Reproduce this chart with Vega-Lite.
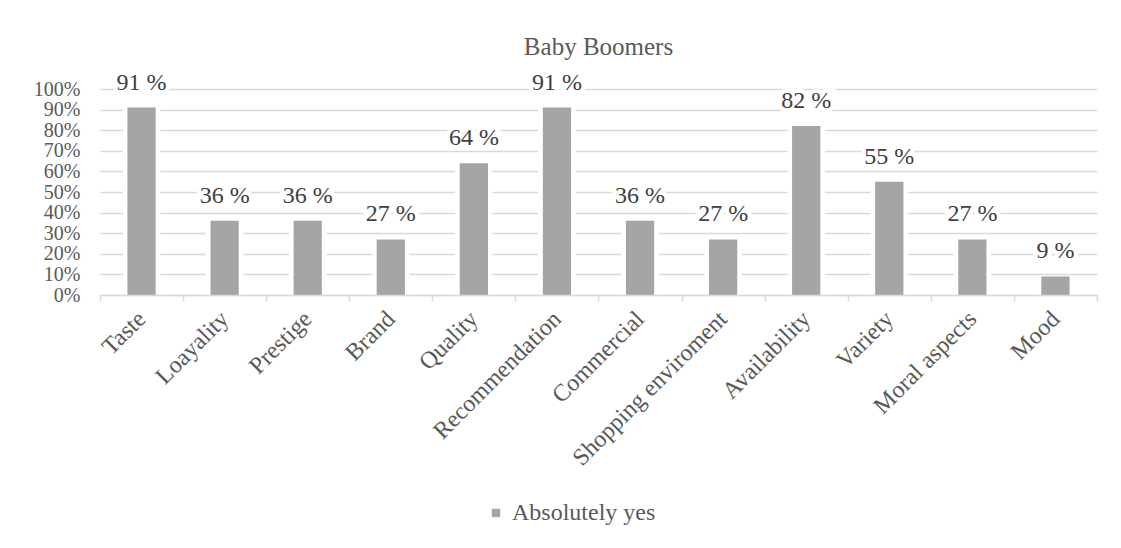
{
  "$schema": "https://vega.github.io/schema/vega-lite/v6.json",
  "width": 997,
  "height": 206,
  "autosize": "none",
  "padding": {"left": 100, "top": 89, "right": 24, "bottom": 253},
  "background": "white",
  "title": {
    "text": "Baby Boomers",
    "anchor": "middle",
    "frame": "group",
    "font": "Times New Roman, Liberation Serif, serif",
    "fontSize": 25,
    "fontWeight": "normal",
    "color": "#595959",
    "offset": 11
  },
  "data": {
    "values": [
      {"factor": "Taste", "share": 0.91, "label": "91 %", "series": "Absolutely yes"},
      {"factor": "Loayality", "share": 0.36, "label": "36 %", "series": "Absolutely yes"},
      {"factor": "Prestige", "share": 0.36, "label": "36 %", "series": "Absolutely yes"},
      {"factor": "Brand", "share": 0.27, "label": "27 %", "series": "Absolutely yes"},
      {"factor": "Quality", "share": 0.64, "label": "64 %", "series": "Absolutely yes"},
      {"factor": "Recommendation", "share": 0.91, "label": "91 %", "series": "Absolutely yes"},
      {"factor": "Commercial", "share": 0.36, "label": "36 %", "series": "Absolutely yes"},
      {"factor": "Shopping enviroment", "share": 0.27, "label": "27 %", "series": "Absolutely yes"},
      {"factor": "Availability", "share": 0.82, "label": "82 %", "series": "Absolutely yes"},
      {"factor": "Variety", "share": 0.55, "label": "55 %", "series": "Absolutely yes"},
      {"factor": "Moral aspects", "share": 0.27, "label": "27 %", "series": "Absolutely yes"},
      {"factor": "Mood", "share": 0.09, "label": "9 %", "series": "Absolutely yes"}
    ]
  },
  "encoding": {
    "x": {
      "field": "factor",
      "type": "nominal",
      "sort": null,
      "scale": {"paddingInner": 0, "paddingOuter": 0},
      "axis": {
        "title": null,
        "labelAngle": -45,
        "labelAlign": "right",
        "labelBaseline": "middle",
        "labelFont": "Liberation Serif",
        "labelFontSize": 24,
        "labelColor": "#595959",
        "labelPadding": 14,
        "labelLimit": 400,
        "domainColor": "#d9d9d9",
        "domainWidth": 1.5,
        "tickColor": "#d9d9d9",
        "tickWidth": 1.5,
        "tickSize": 6,
        "tickBand": "extent",
        "zindex": 1
      }
    },
    "y": {
      "field": "share",
      "type": "quantitative",
      "scale": {"domain": [0, 1], "nice": false},
      "axis": {
        "title": null,
        "format": ".0%",
        "values": [0, 0.1, 0.2, 0.3, 0.4, 0.5, 0.6, 0.7, 0.8, 0.9, 1],
        "labelFont": "Liberation Serif",
        "labelFontSize": 20,
        "labelColor": "#595959",
        "labelPadding": 20,
        "labelOverlap": false,
        "labelBaseline": "middle",
        "domain": false,
        "ticks": false,
        "gridColor": "#d9d9d9",
        "gridWidth": 1.5
      }
    }
  },
  "layer": [
    {
      "mark": {"type": "bar", "color": "white", "width": {"band": 0.45}},
      "encoding": {}
    },
    {
      "mark": {"type": "bar", "width": {"band": 0.34}},
      "encoding": {
        "color": {
          "field": "series",
          "type": "nominal",
          "scale": {"range": ["#a5a5a5"]},
          "legend": {
            "title": null,
            "orient": "none",
            "legendX": 384,
            "legendY": 412,
            "symbolType": "square",
            "symbolSize": 70,
            "labelFont": "Times New Roman, Liberation Serif, serif",
            "labelFontSize": 24,
            "labelColor": "#595959",
            "labelOffset": 4
          }
        }
      }
    },
    {
      "mark": {
        "type": "text",
        "font": "Times New Roman, Liberation Serif, serif",
        "fontSize": 24,
        "baseline": "alphabetic",
        "dy": -18,
        "color": "white",
        "stroke": "white",
        "strokeWidth": 9
      },
      "encoding": {"text": {"field": "label"}}
    },
    {
      "mark": {
        "type": "text",
        "font": "Times New Roman, Liberation Serif, serif",
        "fontSize": 24,
        "baseline": "alphabetic",
        "dy": -18,
        "color": "#404040"
      },
      "encoding": {"text": {"field": "label"}}
    }
  ],
  "config": {"view": {"stroke": null}, "font": "Liberation Serif"}
}
